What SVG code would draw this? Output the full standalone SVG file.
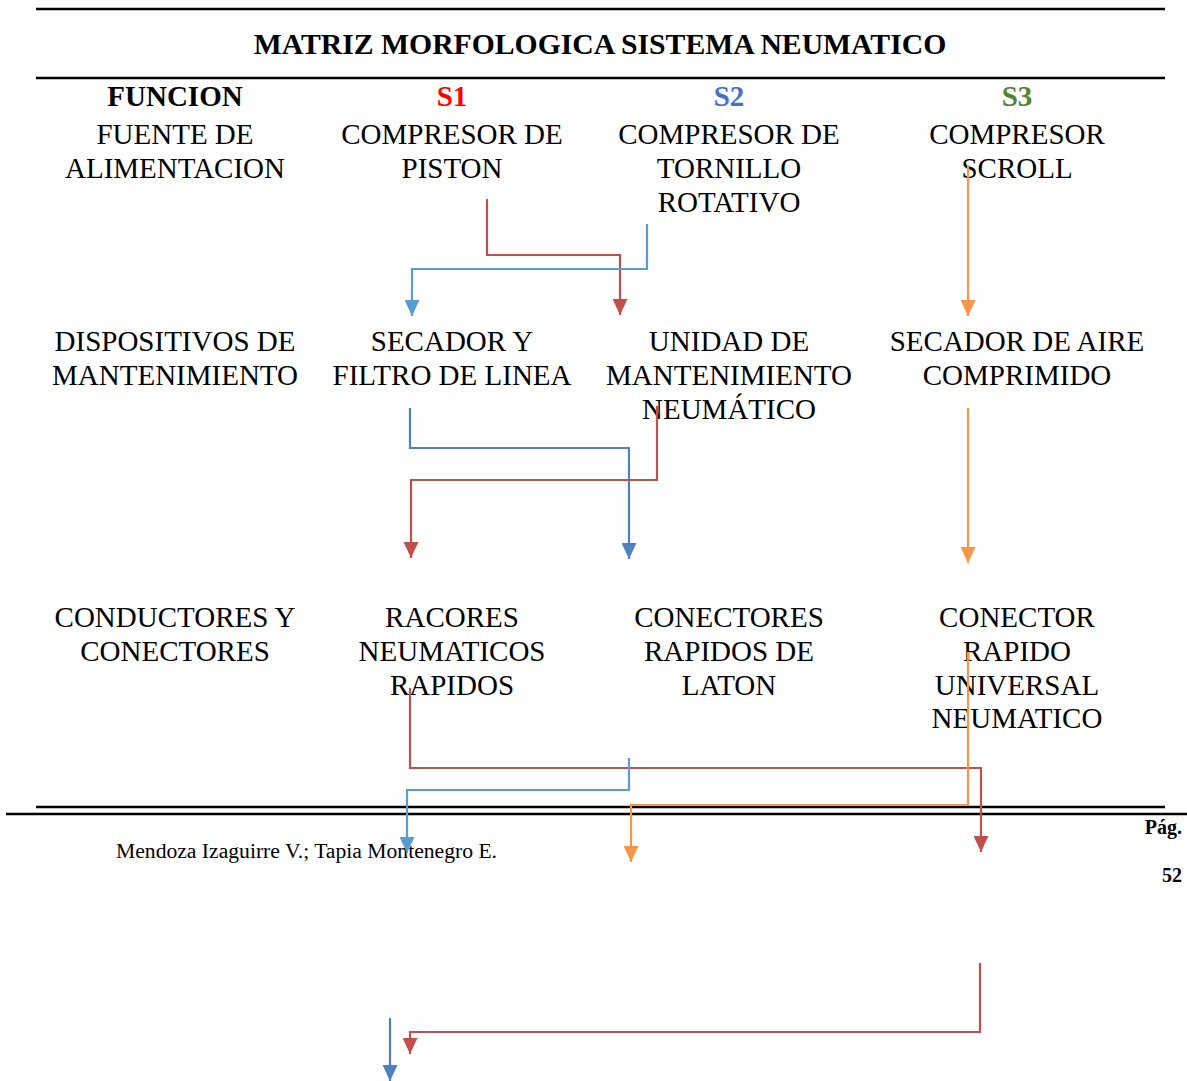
<svg xmlns="http://www.w3.org/2000/svg" width="1187" height="1081" viewBox="0 0 1187 1081">
<style>
text{font-family:"Liberation Serif","Times New Roman",serif;fill:#000}
.t{font-size:29px;text-anchor:middle}
.h{font-size:29px;font-weight:bold;text-anchor:middle}
.rule{stroke:#000;stroke-width:2.5;fill:none}
.c{fill:none;stroke-width:2.2}
.red{stroke:#C0504D}
.lb{stroke:#5B9BD5}
.db{stroke:#4F81BD}
.or{stroke:#F79646}
.f{font-size:20px}
</style>
<defs>
<marker id="aRed" viewBox="0 0 16 15" refX="16" refY="7.5" markerWidth="16" markerHeight="15" markerUnits="userSpaceOnUse" orient="auto"><path d="M0,0 L16,7.5 L0,15 z" fill="#C0504D"/></marker>
<marker id="aLb" viewBox="0 0 16 15" refX="16" refY="7.5" markerWidth="16" markerHeight="15" markerUnits="userSpaceOnUse" orient="auto"><path d="M0,0 L16,7.5 L0,15 z" fill="#5B9BD5"/></marker>
<marker id="aDb" viewBox="0 0 16 15" refX="16" refY="7.5" markerWidth="16" markerHeight="15" markerUnits="userSpaceOnUse" orient="auto"><path d="M0,0 L16,7.5 L0,15 z" fill="#4F81BD"/></marker>
<marker id="aOr" viewBox="0 0 16 15" refX="16" refY="7.5" markerWidth="16" markerHeight="15" markerUnits="userSpaceOnUse" orient="auto"><path d="M0,0 L16,7.5 L0,15 z" fill="#F79646"/></marker>
</defs>
<rect width="1187" height="1081" fill="#fff"/>
<g id="rules">
<line class="rule" x1="36" y1="9" x2="1165" y2="9"/>
<line class="rule" x1="36" y1="78" x2="1165" y2="78"/>
<line class="rule" x1="36" y1="807" x2="1165" y2="807"/>
<line class="rule" x1="6" y1="814" x2="1187" y2="814"/>
</g>
<g id="title"><text class="h" x="600" y="54" style="font-size:29.7px">MATRIZ MORFOLOGICA SISTEMA NEUMATICO</text></g>
<g id="hdr-funcion"><text class="h" x="175" y="106">FUNCION</text></g>
<g id="hdr-s1"><text class="h" x="452" y="106" style="fill:#FF0000">S1</text></g>
<g id="hdr-s2"><text class="h" x="729" y="106" style="fill:#4472C4">S2</text></g>
<g id="hdr-s3"><text class="h" x="1017" y="106" style="fill:#538135">S3</text></g>
<g id="f1"><text class="t" x="175" y="144">FUENTE DE</text><text class="t" x="175" y="178">ALIMENTACION</text></g>
<g id="n11"><text class="t" x="452" y="144">COMPRESOR DE</text><text class="t" x="452" y="178">PISTON</text></g>
<g id="n12"><text class="t" x="729" y="144">COMPRESOR DE</text><text class="t" x="729" y="178">TORNILLO</text><text class="t" x="729" y="212">ROTATIVO</text></g>
<g id="n13"><text class="t" x="1017" y="144">COMPRESOR</text><text class="t" x="1017" y="178">SCROLL</text></g>
<g id="f2"><text class="t" x="175" y="351">DISPOSITIVOS DE</text><text class="t" x="175" y="385">MANTENIMIENTO</text></g>
<g id="n21"><text class="t" x="452" y="351">SECADOR Y</text><text class="t" x="452" y="385">FILTRO DE LINEA</text></g>
<g id="n22"><text class="t" x="729" y="351">UNIDAD DE</text><text class="t" x="729" y="385">MANTENIMIENTO</text><text class="t" x="729" y="419">NEUMÁTICO</text></g>
<g id="n23"><text class="t" x="1017" y="351">SECADOR DE AIRE</text><text class="t" x="1017" y="385">COMPRIMIDO</text></g>
<g id="f3"><text class="t" x="175" y="627">CONDUCTORES Y</text><text class="t" x="175" y="661">CONECTORES</text></g>
<g id="n31"><text class="t" x="452" y="627">RACORES</text><text class="t" x="452" y="661">NEUMATICOS</text><text class="t" x="452" y="695">RAPIDOS</text></g>
<g id="n32"><text class="t" x="729" y="627">CONECTORES</text><text class="t" x="729" y="661">RAPIDOS DE</text><text class="t" x="729" y="695">LATON</text></g>
<g id="n33"><text class="t" x="1017" y="627">CONECTOR</text><text class="t" x="1017" y="661">RAPIDO</text><text class="t" x="1017" y="695">UNIVERSAL</text><text class="t" x="1017" y="728">NEUMATICO</text></g>
<g id="footer">
<text class="f" x="116" y="858" textLength="381" lengthAdjust="spacingAndGlyphs">Mendoza Izaguirre V.; Tapia Montenegro E.</text>
<text class="f" x="1182" y="834" font-weight="bold" text-anchor="end">Pág.</text>
<text class="f" x="1182" y="882" font-weight="bold" text-anchor="end">52</text>
</g>
<g id="connectors">
<path class="c red" d="M487,199 V255 H620 V315" marker-end="url(#aRed)"/>
<path class="c lb" d="M647,224 V269 H412 V316" marker-end="url(#aLb)"/>
<path class="c or" d="M968,165 V316" marker-end="url(#aOr)"/>
<path class="c db" d="M410,408 V448 H629 V559" marker-end="url(#aDb)"/>
<path class="c red" d="M657,406 V480 H411 V558" marker-end="url(#aRed)"/>
<path class="c or" d="M968,408 V563" marker-end="url(#aOr)"/>
<path class="c red" d="M410,688 V768 H981 V852" marker-end="url(#aRed)"/>
<path class="c lb" d="M629,758 V790 H407 V853" marker-end="url(#aLb)"/>
<path class="c or" d="M968,652 V805 H631 V862" marker-end="url(#aOr)"/>
<path class="c red" d="M980,963 V1032 H410 V1054" marker-end="url(#aRed)"/>
<path class="c db" d="M390,1018 V1081" marker-end="url(#aDb)"/>
</g>
</svg>
